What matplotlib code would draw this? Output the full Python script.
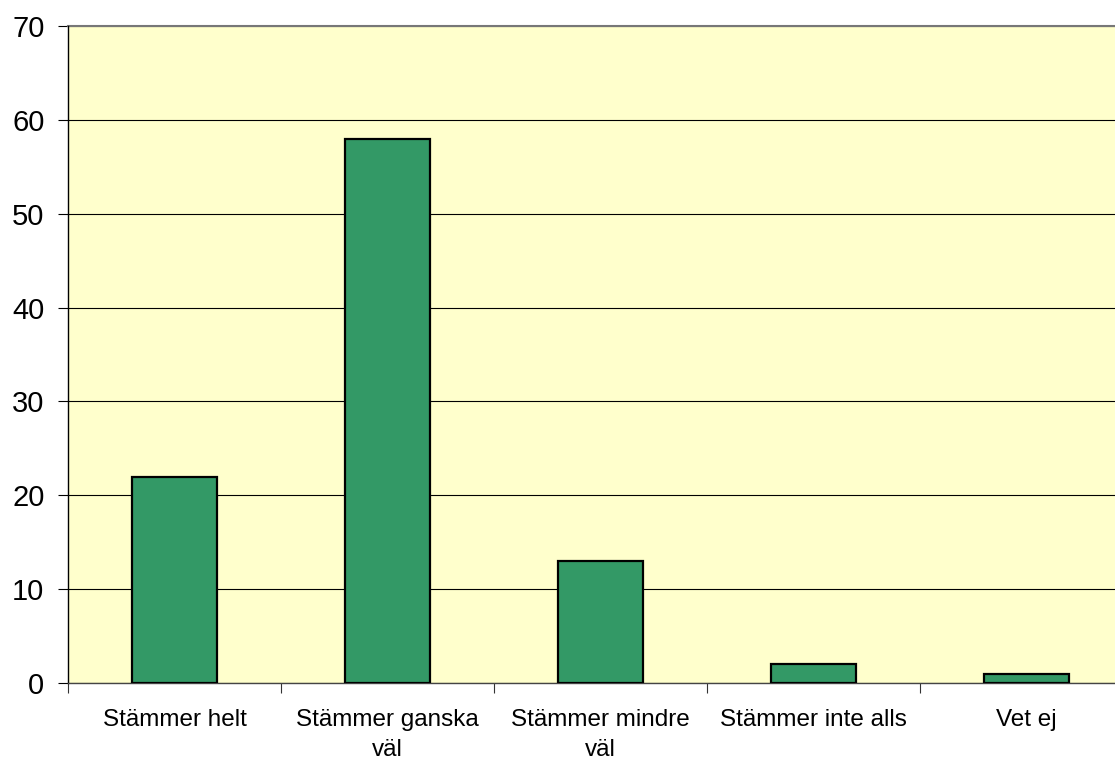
import numpy as np
from matplotlib import pyplot as plt

# Data
categories = ["Stämmer helt", "Stämmer ganska\nväl", "Stämmer mindre\nväl",
              "Stämmer inte alls", "Vet ej"]
values = [22, 58, 13, 2, 1]
yticks = [0, 10, 20, 30, 40, 50, 60, 70]

plt.rcParams['font.family'] = ['Liberation Sans', 'DejaVu Sans']

fig = plt.figure(figsize=(11.15, 7.63), dpi=100)
W, H = 1115, 763
ax = fig.add_axes([68 / W, 1 - 683 / H, (1133 - 68) / W, (683 - 26) / H])
ax.set_facecolor('#FFFFCC')

x = np.arange(len(categories))
ax.bar(x, values, width=0.4, color='#339966', edgecolor='black', linewidth=1.6, zorder=3)

ax.set_xlim(-0.5, len(categories) - 0.5)
ax.set_ylim(0, 70)
ax.set_yticks(yticks)
ax.set_yticklabels([str(v) for v in yticks], fontsize=21)
ax.yaxis.grid(True, color='black', linewidth=0.8, zorder=1)

# category labels at centres, tick marks at boundaries
ax.set_xticks(x)
ax.set_xticklabels(categories, fontsize=17.5, linespacing=1.45)
ax.set_xticks(np.arange(len(categories) + 1) - 0.5, minor=True)
ax.tick_params(axis='x', which='major', length=0, pad=19)
ax.tick_params(axis='x', which='minor', length=7, width=0.8, color='#333333')
ax.tick_params(axis='y', length=7, width=0.8, pad=10)

for s in ['top', 'right']:
    ax.spines[s].set_visible(False)
ax.spines['left'].set_color('black')
ax.spines['left'].set_linewidth(1.0)
ax.spines['bottom'].set_color('#444444')
ax.spines['bottom'].set_linewidth(1.0)
ax.axhline(70, color='#777777', linewidth=1.5, zorder=2, clip_on=False)

fig.savefig('out.png', dpi=100)
